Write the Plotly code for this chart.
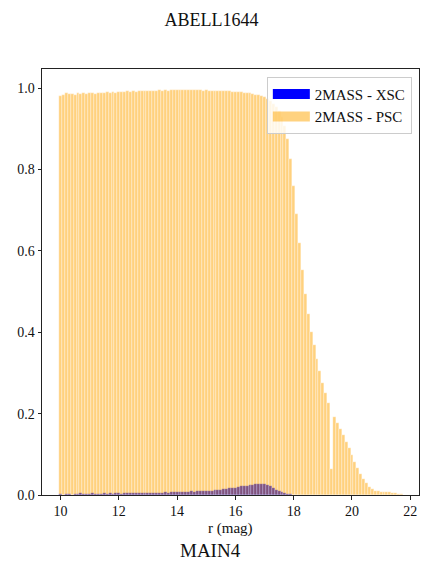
import plotly.graph_objects as go

# Bin centres (r magnitude, 0.1 mag bins)
bin_start = 10.0
bin_width = 0.1

# Fraction of sources per bin: 2MASS - PSC (rows of 10 bins, 10.0 .. 21.7)
psc = [
    0.981, 0.984, 0.987, 0.985, 0.986, 0.984, 0.987, 0.985, 0.988, 0.986,  # 10.x
    0.987, 0.988, 0.986, 0.989, 0.988, 0.989, 0.990, 0.988, 0.990, 0.989,  # 11.x
    0.991, 0.990, 0.991, 0.992, 0.991, 0.993, 0.991, 0.992, 0.993, 0.992,  # 12.x
    0.994, 0.993, 0.994, 0.993, 0.995, 0.994, 0.995, 0.994, 0.996, 0.995,  # 13.x
    0.996, 0.995, 0.996, 0.995, 0.996, 0.995, 0.996, 0.995, 0.995, 0.994,  # 14.x
    0.995, 0.994, 0.994, 0.993, 0.994, 0.993, 0.993, 0.992, 0.992, 0.991,  # 15.x
    0.991, 0.990, 0.990, 0.989, 0.988, 0.987, 0.986, 0.984, 0.982, 0.980,  # 16.x
    0.977, 0.973, 0.968, 0.962, 0.954, 0.944, 0.930, 0.908, 0.876, 0.826,  # 17.x
    0.760, 0.690, 0.620, 0.552, 0.495, 0.444, 0.401, 0.368, 0.335, 0.305,  # 18.x
    0.276, 0.250, 0.225, 0.065, 0.192, 0.176, 0.162, 0.147, 0.131, 0.115,  # 19.x
    0.098, 0.082, 0.066, 0.052, 0.039, 0.029, 0.020, 0.015, 0.011, 0.009,  # 20.x
    0.008, 0.007, 0.007, 0.008, 0.006, 0.005, 0.003, 0.002,                # 21.0-21.7
]

# Fraction of sources per bin: 2MASS - XSC
xsc = [
    0.002, 0.001, 0.003, 0.002, 0.001, 0.003, 0.002, 0.004, 0.003, 0.002,  # 10.x
    0.003, 0.004, 0.003, 0.002, 0.003, 0.004, 0.003, 0.004, 0.003, 0.004,  # 11.x
    0.004, 0.003, 0.004, 0.005, 0.004, 0.004, 0.005, 0.004, 0.005, 0.005,  # 12.x
    0.006, 0.005, 0.006, 0.006, 0.005, 0.006, 0.007, 0.006, 0.007, 0.007,  # 13.x
    0.007, 0.008, 0.007, 0.008, 0.008, 0.009, 0.008, 0.009, 0.009, 0.010,  # 14.x
    0.010, 0.011, 0.011, 0.012, 0.012, 0.013, 0.014, 0.015, 0.016, 0.017,  # 15.x
    0.018, 0.019, 0.021, 0.022, 0.023, 0.024, 0.025, 0.026, 0.027, 0.027,  # 16.x
    0.026, 0.024, 0.021, 0.017, 0.013, 0.010, 0.007, 0.005, 0.003, 0.002,  # 17.x
    0.001, 0.001, 0.0005, 0, 0, 0, 0, 0, 0, 0,                             # 18.x
    0, 0, 0, 0, 0, 0, 0, 0, 0, 0,                                          # 19.x
    0, 0, 0, 0, 0, 0, 0, 0, 0, 0,                                          # 20.x
    0, 0, 0, 0, 0, 0, 0, 0,                                                # 21.0-21.7
]

mags = [round(bin_start + bin_width * i, 1) for i in range(len(psc))]

x_ticks = [10, 12, 14, 16, 18, 20, 22]
y_ticks = [0.0, 0.2, 0.4, 0.6, 0.8, 1.0]

title_text = "ABELL1644"
xlabel_text = "r (mag)"
sub_text = "MAIN4"
names = ["2MASS - XSC", "2MASS - PSC"]

FONT = "Liberation Serif, DejaVu Serif, serif"

fig = go.Figure()
fig.add_trace(go.Bar(x=mags, y=xsc, width=bin_width,
                     marker=dict(color="blue", line=dict(width=0.35, color="rgba(255,255,255,0.6)")),
                     showlegend=False, name=names[0]))
fig.add_trace(go.Bar(x=mags, y=psc, width=bin_width,
                     marker=dict(color="orange", line=dict(width=0.35, color="rgba(255,255,255,0.9)")),
                     opacity=0.5, showlegend=False, name=names[1]))
# legend proxies
fig.add_trace(go.Scatter(x=[None], y=[None], mode="lines", line=dict(color="blue", width=11), name=names[0]))
fig.add_trace(go.Scatter(x=[None], y=[None], mode="lines", line=dict(color="rgba(255,165,0,0.5)", width=11), name=names[1]))

axis_common = dict(
    showgrid=False, zeroline=False, showline=True, linecolor="#222", linewidth=1, mirror=True,
    ticks="outside", ticklen=3.5, tickwidth=0.8, tickcolor="#222",
    tickfont=dict(family=FONT, size=14, color="#111"),
)
fig.update_layout(
    width=423, height=561,
    margin=dict(l=42, r=4, t=69, b=66),
    paper_bgcolor="white", plot_bgcolor="white",
    barmode="overlay", bargap=0,
    title=dict(text=title_text, x=0.5, xref="container", xanchor="center",
               y=1 - 20 / 561, yref="container", yanchor="middle",
               font=dict(family=FONT, size=18, color="#111")),
    xaxis=dict(range=[9.365, 22.3], tickvals=x_ticks, **axis_common),
    yaxis=dict(range=[0, 1.047], tickvals=y_ticks, tickformat=".1f", **axis_common),
    legend=dict(x=0.981, y=0.982, xanchor="right", yanchor="top", itemwidth=37,
                bgcolor="rgba(255,255,255,0.8)", bordercolor="#cccccc", borderwidth=1,
                font=dict(family=FONT, size=15, color="#111")),
    annotations=[
        dict(text=xlabel_text, x=0.5, y=(495 - 528) / 425.7, xref="paper", yref="paper",
             xanchor="center", yanchor="middle", showarrow=False,
             font=dict(family=FONT, size=15, color="#111")),
        dict(text=sub_text, x=(210 - 41.5) / 378, y=(495 - 550) / 425.7, xref="paper", yref="paper",
             xanchor="center", yanchor="middle", showarrow=False,
             font=dict(family=FONT, size=19, color="#111")),
    ],
)

fig.write_html("out.html")
